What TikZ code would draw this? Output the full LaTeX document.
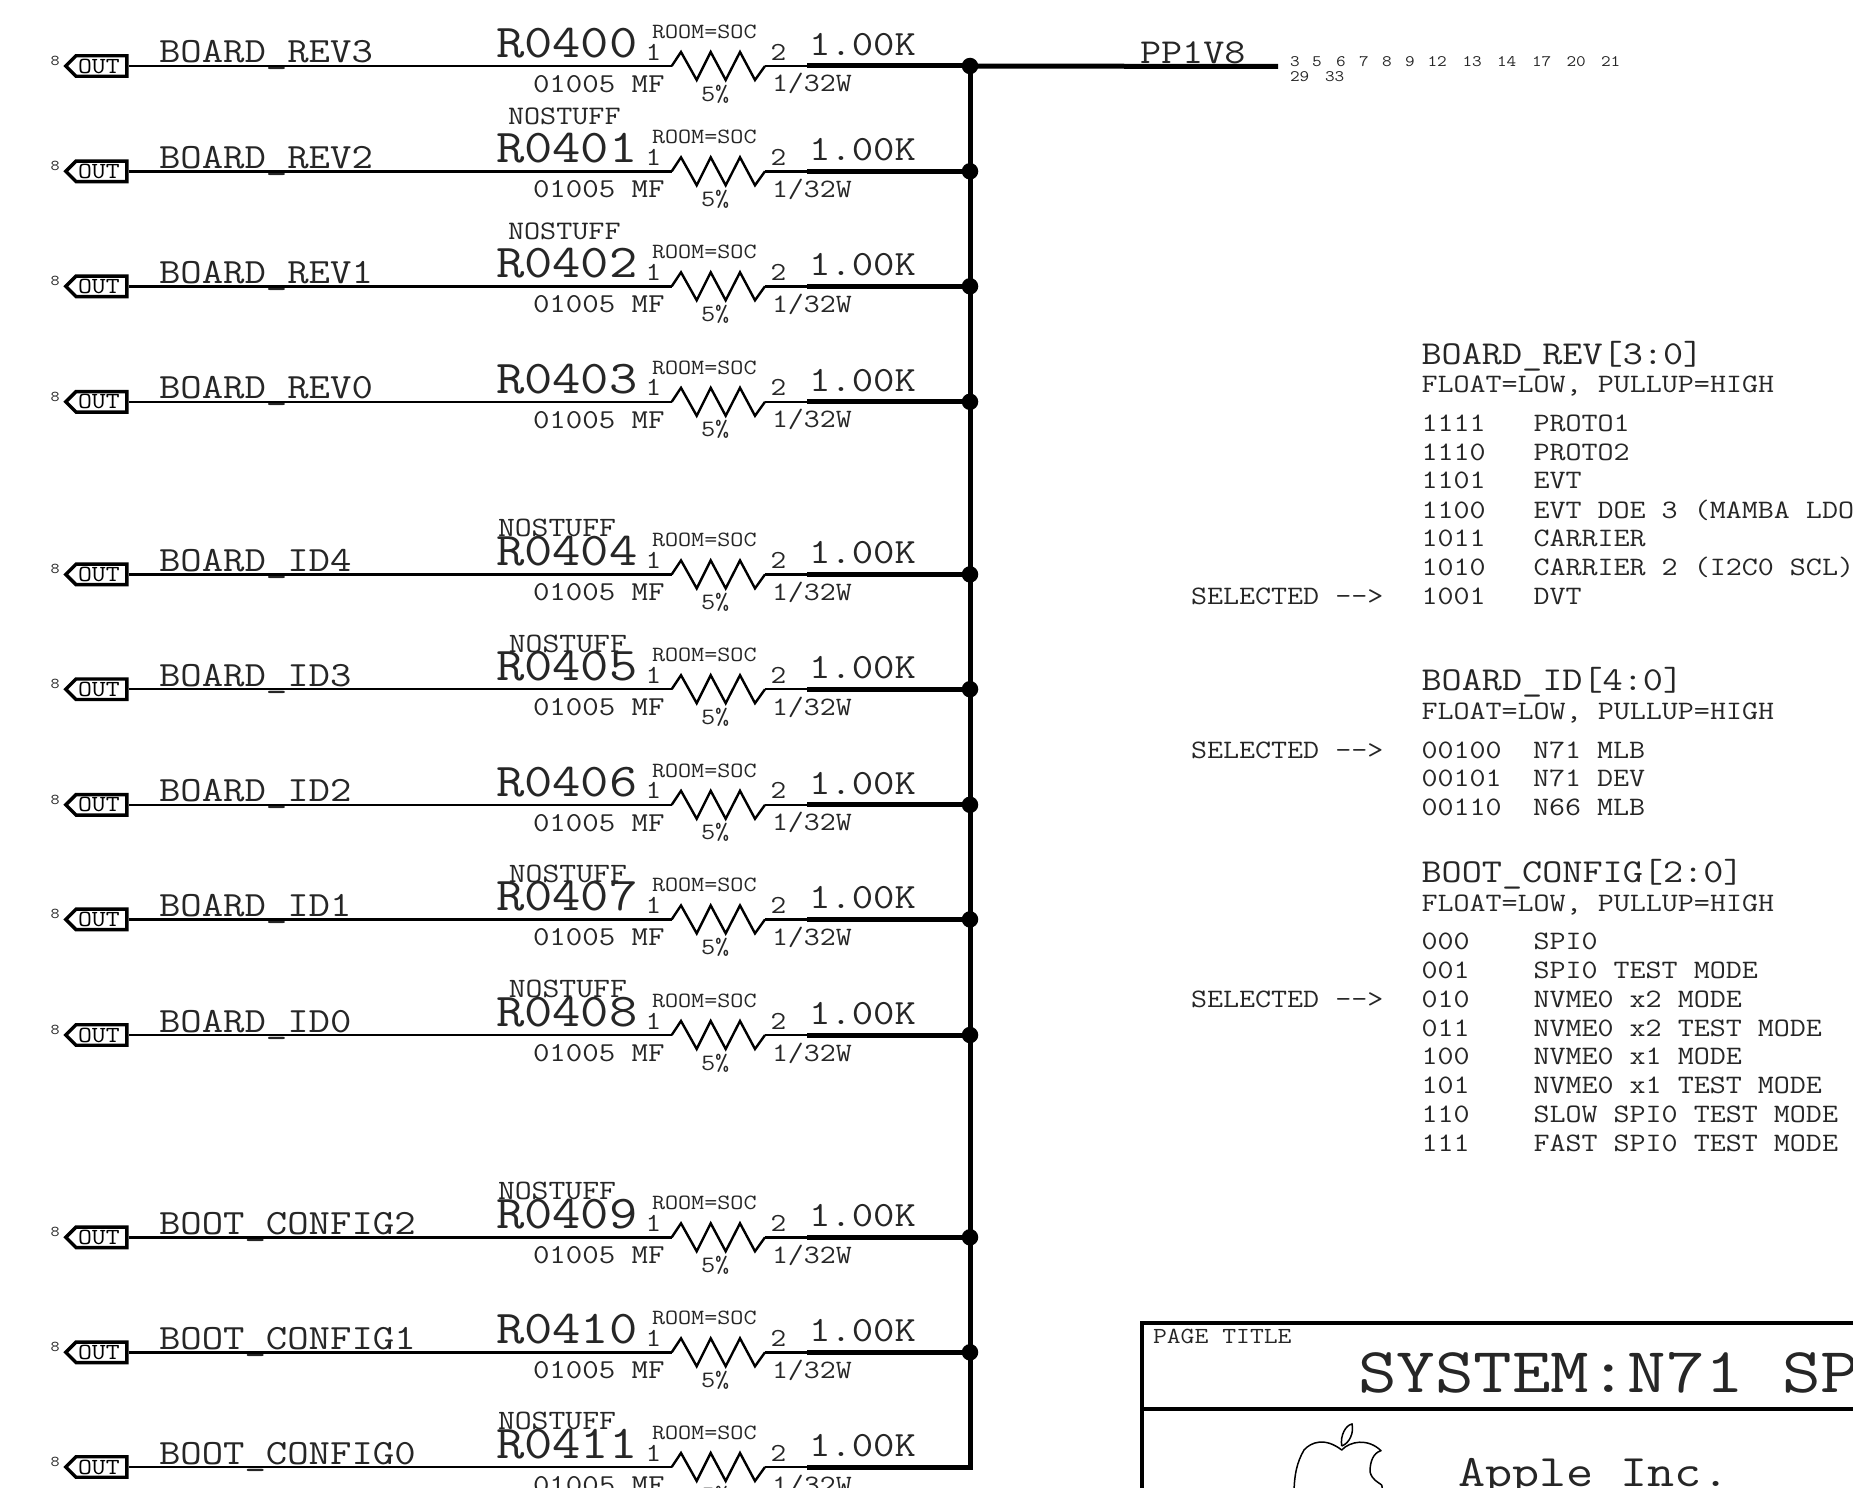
\documentclass[tikz,border=0pt]{standalone}
\usepackage{fontspec}
\setmainfont[FakeStretch=1.17]{Latin Modern Mono}
\usetikzlibrary{shapes.symbols}
\tikzset{
  txt/.style={inner sep=0pt,outer sep=0pt,anchor=base west,font=\fontsize{#1}{#1}\selectfont,text=black!85},
  wire/.style={line width=2.4pt},
  thick wire/.style={line width=5pt},
  junction/.style={circle,fill=black,inner sep=0pt,minimum size=16.5pt},
  outtag/.style={signal,signal to=west,signal from=nowhere,signal pointer angle=90,draw=black,line width=3.4pt,
    minimum width=61pt,minimum height=20.5pt,inner sep=0pt,anchor=east,font=\fontsize{23}{23}\selectfont},
  frame/.style={line width=4pt,line cap=butt,line join=miter}
}
\begin{document}
\begin{tikzpicture}[x=1pt,y=-1pt]
\useasboundingbox (0,0) rectangle (1853,1488);
\clip (0,0) rectangle (1853,1488);

% supply
\node[junction] (j0) at (970,66) {};
\coordinate (ppend) at (1278,66.5);
\coordinate (jend) at (970,1467);
\draw[thick wire] (j0.center) -- (ppend);
\node[txt=35] (ppname) at (1140,63.5) {PP1V8};
\foreach \x/\y/\s [count=\n] in {1290/66.7/3,1312/66.7/5,1336/66.7/6,1359/66.7/7,1382/66.7/8,1405/66.7/9,1427.5/66.7/12,1462.5/66.7/13,1497/66.7/14,1532/66.7/17,1566.5/66.7/20,1601/66.7/21,1290/81.2/29,1325/81.2/33}
  \node[txt=16] (pg\n) at (\x,\y) {\s};

% resistor rows
\foreach \i/\y/\net/\rname in {
 0/66/BOARD\_REV3/R0400,1/171.3/BOARD\_REV2/R0401,2/286.3/BOARD\_REV1/R0402,3/401.8/BOARD\_REV0/R0403,
 4/574.4/BOARD\_ID4/R0404,5/689.2/BOARD\_ID3/R0405,6/804.8/BOARD\_ID2/R0406,7/919.4/BOARD\_ID1/R0407,
 8/1035/BOARD\_ID0/R0408,9/1237.3/BOOT\_CONFIG2/R0409,10/1352.3/BOOT\_CONFIG1/R0410,11/1467/BOOT\_CONFIG0/R0411}{
  \node[outtag] (out\i) at (128.5,\y) {OUT\hspace*{5pt}};
  \node[txt=15] (sheet\i) at (50.5,\y-0.5) {8};
  \node[txt=35.5] (net\i) at (159,\y-3) {\net};
  \node[txt=47] (ref\i) at (496,\y-8.5) {\rname};
  \node[txt=21.7] (room\i) at (652,\y-27.7) {ROOM=SOC};
  \node[txt=26] (pina\i) at (645.5,\y-6) {1};
  \node[txt=26] (pinb\i) at (770.5,\y-6) {2};
  \node[txt=35.5] (val\i) at (809,\y-10.5) {1.00K};
  \node[txt=27.3] (pkg\i) at (533,\y+26.3) {01005 MF};
  \node[txt=26.5] (pwr\i) at (772,\y+26) {1/32W};
  \node[txt=23.5] (tol\i) at (701,\y+35) {5\%};
  \coordinate (ra\i) at (671.7,\y);
  \coordinate (rb\i) at (765,\y);
  \coordinate (st\i) at (807,\y);
  \coordinate (jn\i) at (970,\y);
  \draw[wire] (out\i.east) -- (ra\i);
  \draw[wire,line join=miter] (ra\i) -- ++(9.3,-14) -- ++(15.7,28) -- ++(14,-28) -- ++(15,28) -- ++(14.3,-28) -- ++(15,28) -- (rb\i);
  \draw[wire] (rb\i) -- (st\i);
  \draw[thick wire] (st\i) -- (jn\i);
}
\foreach \i in {1,...,10}
  \node[junction] (j\i) at (jn\i) {};
\draw[thick wire,line join=miter] (j0.center) -- (jend) -- (st11);

% NOSTUFF labels
\foreach \n/\x/\y/\s in {1/508/124.8/26.7,2/508/239.5/26.7,4/498/536.5/28,5/508.8/652.1/28,7/508.8/882.3/28,8/508.8/997.9/28,9/498/1199.5/28,11/498/1429.8/28}
  \node[txt=\s] (nost\n) at (\x,\y) {NOSTUFF};

% right-hand tables
\node[txt=33.4] (h1) at (1421.5,364.3) {BOARD\_REV[3:0]};
\node[txt=26.6] (f1) at (1421.5,392.5) {FLOAT=LOW, PULLUP=HIGH};
\foreach \n/\y/\a/\b in {1/431/1111/PROTO1,2/460/1110/PROTO2,3/488.3/1101/EVT,4/517.7/1100/{EVT DOE 3 (MAMBA LDO},5/546/1011/CARRIER,6/575/1010/{CARRIER 2 (I2C0 SCL)},7/604.3/1001/DVT}{
  \node[txt=26.6] (ra\n c) at (1421.5,\y+0.4) {\a};
  \node[txt=26.6] (rb\n c) at (1533.5,\y+0.4) {\b};
}
\node[txt=33.4] (h2) at (1421.5,690.7) {BOARD\_ID[4:0]};
\node[txt=26.6] (f2) at (1421.5,719.5) {FLOAT=LOW, PULLUP=HIGH};
\foreach \n/\y/\a/\b in {1/757.7/00100/{N71 MLB},2/786/00101/{N71 DEV},3/815/00110/{N66 MLB}}{
  \node[txt=26.6] (ia\n) at (1421.5,\y+0.4) {\a};
  \node[txt=26.6] (ib\n) at (1533,\y+0.4) {\b};
}
\node[txt=33.4] (h3) at (1421.5,882.3) {BOOT\_CONFIG[2:0]};
\node[txt=26.6] (f3) at (1421.5,911.4) {FLOAT=LOW, PULLUP=HIGH};
\foreach \n/\y/\a/\b in {1/949.3/000/SPI0,2/978.3/001/{SPI0 TEST MODE},3/1006.7/010/{NVME0 x2 MODE},4/1035.7/011/{NVME0 x2 TEST MODE},5/1064/100/{NVME0 x1 MODE},6/1092.7/101/{NVME0 x1 TEST MODE},7/1121.7/110/{SLOW SPI0 TEST MODE},8/1150.7/111/{FAST SPI0 TEST MODE}}{
  \node[txt=26.6] (ca\n) at (1421.5,\y+0.4) {\a};
  \node[txt=26.6] (cb\n) at (1533.5,\y+0.4) {\b};
}
\foreach \n/\y in {1/604.7,2/758.1,3/1007.1}
  \node[txt=26.6] (sel\n) at (1191,\y) {SELECTED -{}->};

% title block
\draw[frame] (1142.3,1490) -- (1142.3,1323) -- (1855,1323);
\draw[frame] (1142.3,1409.3) -- (1855,1409.3);
\node[txt=23] (pt) at (1153,1343.2) {PAGE TITLE};
\node[txt=64] (title) at (1358,1392.2) {SYSTEM:N71 SP};
\node[txt=45] (apple) at (1458,1486.5) {Apple Inc.};
% logo
\draw[line width=1.5pt] (1341.7,1446) .. controls (1340,1435) and (1346,1425) .. (1352,1424) .. controls (1354,1432) and (1350,1443) .. (1341.7,1446);
\draw[line width=1.5pt,line join=round] (1294,1495) .. controls (1294,1475) and (1297,1462) .. (1304,1450)
  .. controls (1311,1442) and (1325,1437) .. (1341.7,1450)
  .. controls (1350,1441) and (1368,1438) .. (1381,1450.7)
  .. controls (1373,1453) and (1370,1462) .. (1370,1471.7)
  .. controls (1372,1480) and (1378,1482) .. (1381.7,1485)
  -- (1383,1492);
\end{tikzpicture}
\end{document}
